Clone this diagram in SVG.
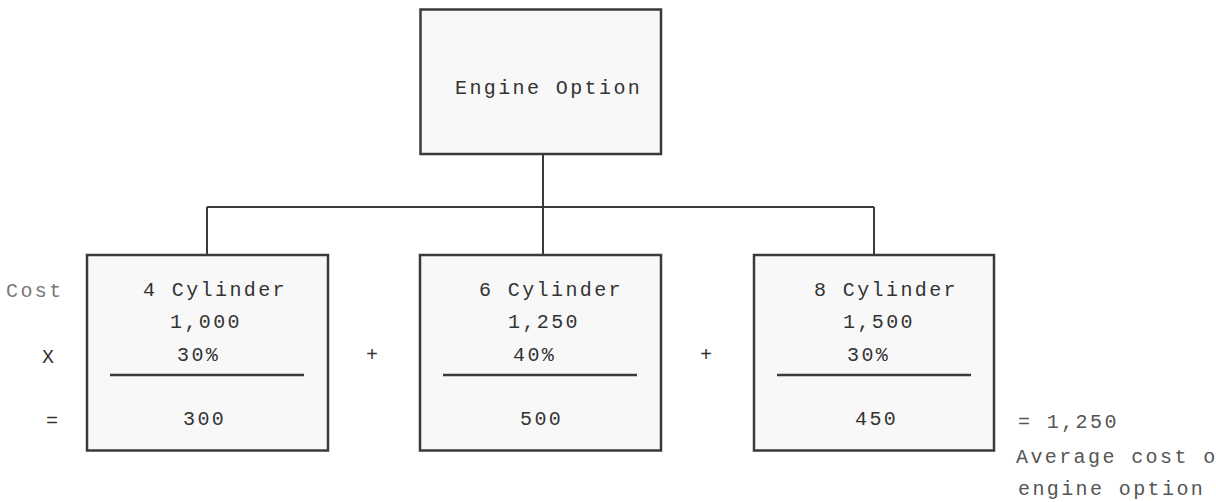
<svg xmlns="http://www.w3.org/2000/svg" width="1216" height="502" viewBox="0 0 1216 502">
<style>
.box{fill:#f8f8f8;stroke:#3a3a3a;stroke-width:2.5}
.ln{stroke:#3a3a3a;stroke-width:2;fill:none}
.div{stroke:#3a3a3a;stroke-width:2.5}
text{font-family:"Liberation Mono","Courier New",monospace;font-size:20px;letter-spacing:2.4px;fill:#333}
.lt{fill:#777}
.md{fill:#555}
</style>
<rect width="1216" height="502" fill="#ffffff"/>
<g id="connectors">
<line class="ln" x1="543" y1="154" x2="543" y2="255"/>
<line class="ln" x1="207" y1="207" x2="874" y2="207"/>
<line class="ln" x1="207" y1="207" x2="207" y2="255"/>
<line class="ln" x1="874" y1="207" x2="874" y2="255"/>
</g>
<g id="engine-option">
<rect class="box" x="420.5" y="9.5" width="240.5" height="144.5"/>
<text x="455" y="94">Engine Option</text>
</g>
<g id="cyl4">
<rect class="box" x="87" y="255" width="241" height="195.5"/>
<text x="143" y="296">4 Cylinder</text>
<text x="170" y="328">1,000</text>
<text x="177" y="361">30%</text>
<line class="div" x1="110" y1="375" x2="304" y2="375"/>
<text x="183" y="425">300</text>
</g>
<g id="cyl6">
<rect class="box" x="420" y="255" width="241" height="195.5"/>
<text x="479" y="296">6 Cylinder</text>
<text x="508" y="328">1,250</text>
<text x="513" y="361">40%</text>
<line class="div" x1="443" y1="375" x2="637" y2="375"/>
<text x="520" y="425">500</text>
</g>
<g id="cyl8">
<rect class="box" x="754" y="255" width="240" height="195.5"/>
<text x="814" y="296">8 Cylinder</text>
<text x="843" y="328">1,500</text>
<text x="847" y="361">30%</text>
<line class="div" x1="777" y1="375" x2="971" y2="375"/>
<text x="855" y="425">450</text>
</g>
<g id="labels">
<text class="lt" x="6" y="297">Cost</text>
<text x="42" y="363">X</text>
<text x="46" y="427">=</text>
<text x="366" y="361">+</text>
<text x="700" y="361">+</text>
<text class="md" x="1018" y="428">= 1,250</text>
<text class="md" x="1016" y="463" letter-spacing="1.8">Average cost o</text>
<text class="md" x="1018" y="495">engine option</text>
</g>
</svg>
